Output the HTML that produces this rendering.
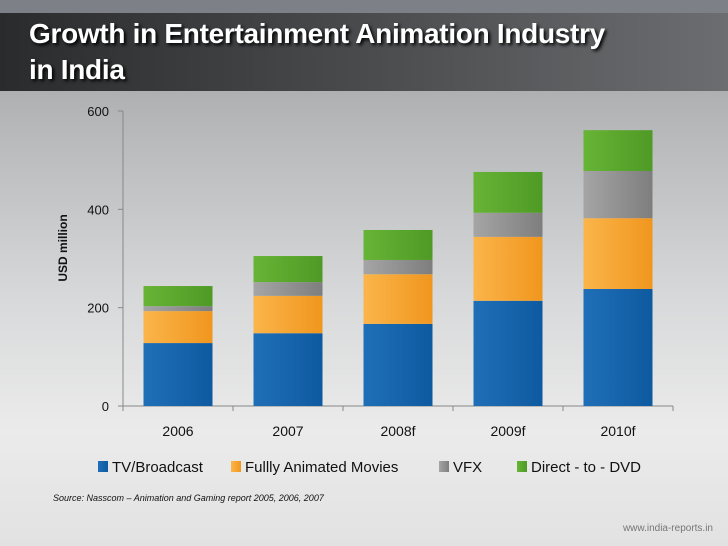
<!DOCTYPE html>
<html><head><meta charset="utf-8"><style>
body{margin:0;width:728px;height:546px;overflow:hidden;font-family:"Liberation Sans",sans-serif;}
#bg{position:absolute;left:0;top:0;width:728px;height:546px;background:linear-gradient(180deg,#9a9c9f 0px,#b4b6b8 120px,#d8d9da 300px,#ebebeb 430px,#e2e2e2 546px);}
#top{position:absolute;left:0;top:0;width:728px;height:13px;background:#7d8086;}
#band{position:absolute;left:0;top:13px;width:728px;height:78px;background:linear-gradient(90deg,#2a2b2c,#4a4b4d 50%,#6b6d70);}
#title{position:absolute;left:29px;top:16px;color:#fff;font-size:28px;font-weight:bold;line-height:36px;text-shadow:2px 2px 3px #000;letter-spacing:-0.3px;}
</style></head><body>
<div id="bg"></div>
<div id="top"></div>
<div id="band"></div>
<div id="title">Growth in Entertainment Animation Industry<br>in India</div>
<svg id="chart" width="728" height="546" style="position:absolute;left:0;top:0"></svg>
<script>
const categories=["2006","2007","2008f","2009f","2010f"];
const tv=[128,148,167,214,238];
const movies=[65,76,101,130,144];
const vfx=[10,28,29,49,96];
const dvd=[41,53,61,83,83];
const yTicks=[0,200,400,600];
const seriesNames=["TV/Broadcast","Fullly Animated Movies","VFX","Direct - to - DVD"];
const NS="http://www.w3.org/2000/svg";
const svg=document.getElementById("chart");
const x0=123,cw=110,y0=406,ppu=295/600,bw=69;
const y=v=>y0-v*ppu;
const x=i=>x0+cw*i+(cw-bw)/2;
function mk(t,a){const e=document.createElementNS(NS,t);for(const k in a)e.setAttribute(k,a[k]);svg.appendChild(e);return e;}
const grads=[["gtv","#1f6fb8","#0e5aa0"],["gmv","#fbb54a","#f0961e"],["gvf","#a5a5a5","#7e7e7e"],["gdv","#67b436","#4e9a25"]];
const defs=mk("defs",{});
grads.forEach(g=>{const lg=document.createElementNS(NS,"linearGradient");lg.setAttribute("id",g[0]);lg.setAttribute("x1","0");lg.setAttribute("x2","1");
[[0,g[1]],[1,g[2]]].forEach(s=>{const st=document.createElementNS(NS,"stop");st.setAttribute("offset",s[0]);st.setAttribute("stop-color",s[1]);lg.appendChild(st);});defs.appendChild(lg);});
let a=mk("line",{x1:x0,y1:111,x2:x0,y2:y0,stroke:"#888","stroke-width":1});


a=mk("line",{x1:x0,y1:y0,x2:x0+cw*5,y2:y0,stroke:"#888","stroke-width":1});


yTicks.forEach(v=>{
 const l=mk("line",{x1:x0-5,y1:y(v),x2:x0,y2:y(v),stroke:"#888"});
 
 
 const t=mk("text",{x:x0-14,y:y(v)+5,"text-anchor":"end","font-size":13,fill:"#111"});
 t.textContent=v;
 
 
});
for(let i=0;i<=5;i++){const l=mk("line",{x1:x0+cw*i,y1:y0,x2:x0+cw*i,y2:y0+5,stroke:"#888"});
 
 }
const series=[tv,movies,vfx,dvd];
categories.forEach((c,i)=>{
 let base=0;
 series.forEach((s,j)=>{
  const r=mk("rect",{x:x(i),y:y(base+s[i]),width:bw,height:s[i]*ppu,fill:"url(#"+grads[j][0]+")"});
  
  
  base+=s[i];
 });
 const t=mk("text",{x:x0+cw*i+cw/2,y:436,"text-anchor":"middle","font-size":14,fill:"#111"});
 t.textContent=c;
 
 
});
let yt=mk("text",{x:0,y:0,transform:"translate(67,248) rotate(-90)","text-anchor":"middle","font-size":12,"font-weight":"bold",fill:"#111"});
yt.textContent="USD million";


const lx=[98,231,439,517];
seriesNames.forEach((n,j)=>{
 const r=mk("rect",{x:lx[j],y:461,width:10,height:11,fill:"url(#"+grads[j][0]+")"});
 
 
 const t=mk("text",{x:lx[j]+14,y:472,"font-size":15,fill:"#111"});
 t.textContent=n;
 
 
});
let s=mk("text",{x:53,y:501,"font-size":9,"font-style":"italic",fill:"#111"});
s.textContent="Source: Nasscom – Animation and Gaming report 2005, 2006, 2007";


s=mk("text",{x:713,y:531,"text-anchor":"end","font-size":10,fill:"#777"});
s.textContent="www.india-reports.in";


</script>
</body></html>
